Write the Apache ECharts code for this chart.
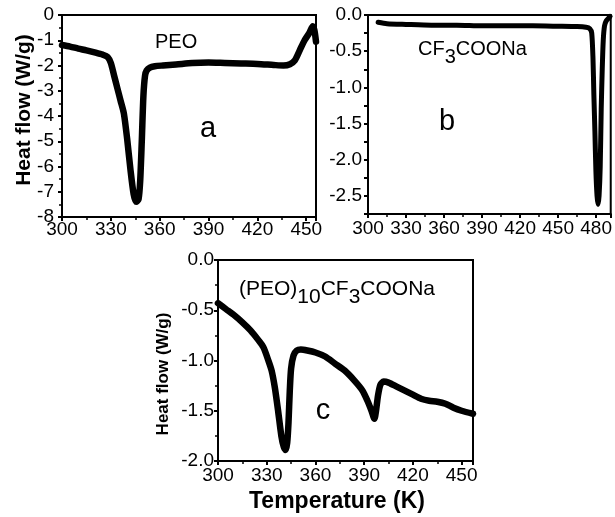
<!DOCTYPE html>
<html>
<head>
<meta charset="utf-8">
<script src="https://cdn.jsdelivr.net/npm/echarts@6/dist/echarts.min.js"></script>
<style>html,body{margin:0;padding:0;background:#fff}#c{width:615px;height:517px}</style>
</head>
<body>
<div id="c"></div>
<script>
// Panel a: PEO
const peoT  = [300, 305, 310, 315, 320, 325, 328, 330, 332, 334, 336, 338, 340, 342, 344, 345.5, 347, 348, 349, 350, 351, 352, 354, 357, 362, 370, 380, 390, 400, 410, 420, 430, 436, 440, 443, 446, 449, 452, 454, 455, 456];
const peoHF = [-1.19, -1.25, -1.33, -1.4, -1.48, -1.57, -1.66, -1.9, -2.4, -2.9, -3.4, -3.9, -4.9, -6.1, -7.1, -7.4, -7.3, -6.6, -5.0, -3.2, -2.4, -2.2, -2.08, -2.03, -2.0, -1.96, -1.9, -1.88, -1.9, -1.92, -1.94, -1.98, -2.0, -1.95, -1.8, -1.4, -1.0, -0.7, -0.45, -0.6, -1.05];
// Panel b: CF3COONa
const naT  = [308, 315, 330, 350, 370, 390, 410, 430, 450, 465, 472, 475, 476.5, 477.5, 478.2, 479, 479.8, 480.7, 481.5, 482.3, 483.2, 484, 484.8, 485.6, 486.6, 488, 490, 491];
const naHF = [-0.1, -0.12, -0.13, -0.14, -0.14, -0.15, -0.15, -0.15, -0.155, -0.16, -0.17, -0.19, -0.25, -0.6, -1.1, -1.6, -2.15, -2.5, -2.62, -2.5, -2.1, -1.3, -0.75, -0.35, -0.15, -0.08, -0.04, -0.02];
// Panel c: (PEO)10CF3COONa
const pcT  = [300, 305, 310, 315, 320, 325, 328, 331, 333, 335, 337, 339, 340.5, 341.6, 342.6, 343.4, 344.2, 345, 346.5, 348.5, 351, 355, 360, 366, 372, 378, 384, 389, 392, 394.5, 396.3, 397.3, 398.5, 400, 402, 405, 410, 415, 420, 425, 430, 435, 440, 445, 450, 457];
const pcHF = [-0.43, -0.49, -0.55, -0.62, -0.7, -0.8, -0.87, -1.0, -1.1, -1.27, -1.5, -1.75, -1.86, -1.89, -1.82, -1.62, -1.3, -1.08, -0.95, -0.9, -0.89, -0.9, -0.92, -0.96, -1.03, -1.1, -1.2, -1.3, -1.4, -1.5, -1.58, -1.5, -1.35, -1.24, -1.21, -1.22, -1.26, -1.3, -1.34, -1.38, -1.4, -1.41, -1.43, -1.47, -1.5, -1.53];

const xTicks = [300, 330, 360, 390, 420, 450, 480];

const FONT = 'Liberation Sans, Arial, sans-serif';
const pairs = (xs, ys) => xs.map((x, i) => [x, ys[i]]);

function xAxis(idx, max, margin) {
  return {
    type: 'value', gridIndex: idx, min: 300, max: max, interval: 30,
    axisLine: {show: true, onZero: false, lineStyle: {color: '#000', width: 2}},
    axisTick: {show: true, inside: false, length: 4, lineStyle: {color: '#000', width: 2}},
    minorTick: {show: true, splitNumber: 2, length: 3, lineStyle: {color: '#000', width: 1.5}},
    splitLine: {show: false},
    axisLabel: {color: '#000', fontSize: 19, fontFamily: FONT, margin: margin,
      formatter: v => xTicks.indexOf(v) >= 0 ? String(v) : ''}
  };
}
function yAxis(idx, min, interval, fmt, margin, minor) {
  return {
    type: 'value', gridIndex: idx, min: min, max: 0, interval: interval,
    axisLine: {show: true, onZero: false, lineStyle: {color: '#000', width: 2}},
    axisTick: {show: true, inside: false, length: 4, lineStyle: {color: '#000', width: 2}},
    minorTick: {show: minor, splitNumber: 2, length: 3, lineStyle: {color: '#000', width: 1.5}},
    splitLine: {show: false},
    axisLabel: {color: '#000', fontSize: 19, fontFamily: FONT, margin: margin, formatter: fmt}
  };
}
function series(idx, data, w) {
  return {
    type: 'line', xAxisIndex: idx, yAxisIndex: idx, data: data, showSymbol: false,
    smooth: 0.25, lineStyle: {color: '#000', width: w, cap: 'round', join: 'round'},
    clip: true, animation: false
  };
}

function richOf(size) {
  return {
    n: {fontSize: size, fontFamily: FONT, color: '#000', lineHeight: 24, verticalAlign: 'top'},
    s: {fontSize: size, fontFamily: FONT, color: '#000', lineHeight: 36, verticalAlign: 'middle'}
  };
}

const chart = echarts.init(document.getElementById('c'), null, {renderer: 'canvas'});
chart.setOption({
  backgroundColor: '#fff',
  animation: false,
  grid: [
    {left: 62, top: 15, width: 254, height: 202, show: true, borderColor: '#000', borderWidth: 2, containLabel: false},
    {left: 368, top: 15, width: 247, height: 199, show: true, borderColor: '#000', borderWidth: 2, containLabel: false},
    {left: 218, top: 260, width: 255, height: 201, show: true, borderColor: '#000', borderWidth: 2, containLabel: false}
  ],
  xAxis: [xAxis(0, 456, 3), xAxis(1, 491.5, 5), xAxis(2, 457, 5)],
  yAxis: [
    yAxis(0, -8, 1, v => String(v), 8, true),
    yAxis(1, -2.75, 0.25, v => (Math.abs(v * 2 - Math.round(v * 2)) < 1e-6 ? v.toFixed(1) : ''), 6, false),
    yAxis(2, -2, 0.5, v => v.toFixed(1), 4, true)
  ],
  series: [
    series(0, pairs(peoT, peoHF), 6.5),
    series(1, pairs(naT, naHF), 5),
    series(2, pairs(pcT, pcHF), 6.5)
  ],
  graphic: [
    {type: 'text', x: 24, y: 110, rotation: Math.PI / 2, style: {text: 'Heat flow (W/g)', font: 'bold 21px ' + FONT, fill: '#000', align: 'center', verticalAlign: 'middle'}},
    {type: 'text', x: 163, y: 374, rotation: Math.PI / 2, style: {text: 'Heat flow (W/g)', font: 'bold 17px ' + FONT, fill: '#000', align: 'center', verticalAlign: 'middle'}},
    {type: 'text', x: 337, y: 502, style: {text: 'Temperature (K)', font: 'bold 23px ' + FONT, fill: '#000', align: 'center', verticalAlign: 'middle'}},
    {type: 'text', x: 155, y: 42, style: {text: 'PEO', font: '20px ' + FONT, fill: '#000', align: 'left', verticalAlign: 'middle'}},
    {type: 'text', x: 208, y: 129, style: {text: 'a', font: '29px ' + FONT, fill: '#000', align: 'center', verticalAlign: 'middle'}},
    {type: 'text', x: 418, y: 39, style: {text: '{n|CF}{s|3}{n|COONa}', rich: richOf(20), align: 'left', verticalAlign: 'top'}},
    {type: 'text', x: 447, y: 122, style: {text: 'b', font: '29px ' + FONT, fill: '#000', align: 'center', verticalAlign: 'middle'}},
    {type: 'text', x: 239, y: 279, style: {text: '{n|(PEO)}{s|10}{n|CF}{s|3}{n|COONa}', rich: richOf(21), align: 'left', verticalAlign: 'top'}},
    {type: 'text', x: 323, y: 411, style: {text: 'c', font: '29px ' + FONT, fill: '#000', align: 'center', verticalAlign: 'middle'}}
  ]
});
</script>
</body>
</html>
